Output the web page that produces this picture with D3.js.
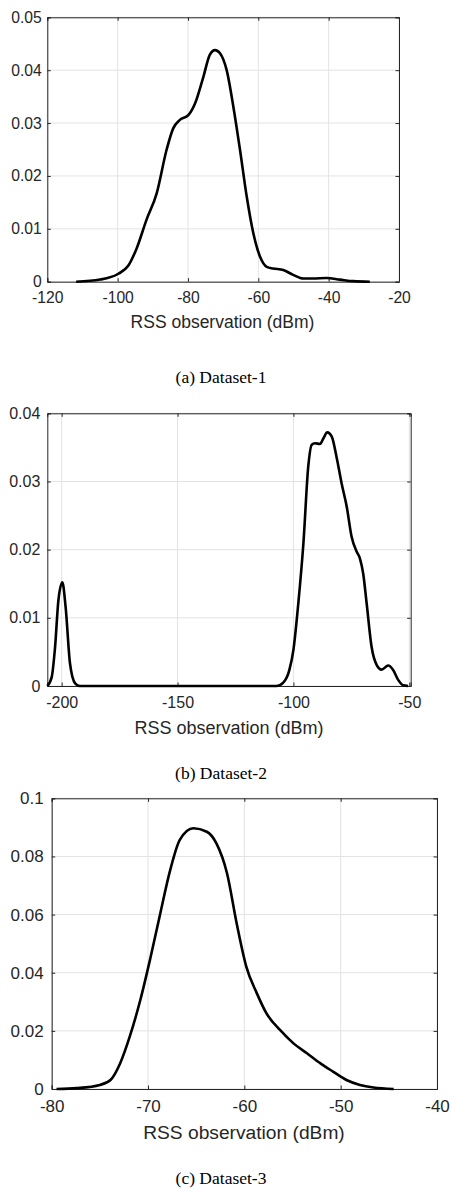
<!DOCTYPE html>
<html>
<head>
<meta charset="utf-8">
<script src="https://cdn.jsdelivr.net/npm/d3@7"></script>
<style>
  body { margin: 0; background: #fff; }
  svg { display: block; }
</style>
</head>
<body>
<div id="chart"></div>
<script>
/* RSS density curves for three datasets, MATLAB-ish look */

// dataset 1
const rss1 = [-111.8, -105, -99.8, -97, -94.6, -91.8, -88.9, -86.1, -84.2, -82.3, -79.9, -78, -75.6, -73.8, -72.3, -70.9, -69, -67.1, -65.2, -63.3, -61.4, -59.5, -57.6, -55.8, -52.9, -50.1, -47.2, -44.4, -40.6, -36.8, -33, -28.3];
const dens1 = [0, 0.0004, 0.0015, 0.003, 0.0063, 0.0117, 0.0167, 0.0249, 0.029, 0.0306, 0.0315, 0.0337, 0.0388, 0.0429, 0.0438, 0.0432, 0.040, 0.0331, 0.0249, 0.0161, 0.0091, 0.0047, 0.0028, 0.0025, 0.0022, 0.0013, 0.0006, 0.0006, 0.0007, 0.0004, 0.0001, 0];

// dataset 2
const rss2 = [-206.2, -204.3, -202.9, -201.4, -199.7, -198.3, -196.4, -194.2, -192.1, -107.3, -104.4, -101.8, -100, -97.9, -95.7, -93.6, -92.1, -90.7, -88.5, -87.1, -85.4, -83.5, -81.4, -79.2, -77, -74.9, -72.7, -71.3, -69.9, -68.4, -66.3, -64.1, -62, -59.1, -56.9, -54.8, -52.6, -50.5];
const dens2 = [0, 0.0013, 0.0055, 0.0126, 0.0152, 0.0116, 0.0033, 0.0004, 0, 0, 0.0005, 0.0023, 0.0053, 0.0121, 0.0209, 0.0322, 0.0354, 0.0356, 0.0355, 0.0363, 0.0372, 0.0366, 0.0336, 0.0297, 0.0263, 0.0219, 0.0197, 0.0187, 0.0165, 0.0121, 0.0058, 0.0031, 0.0024, 0.003, 0.0023, 0.0009, 0.0001, 0];

// dataset 3
const rss3 = [-79.5, -77.4, -75, -73.9, -72.9, -71.9, -70.8, -69.8, -68.8, -67.7, -66.7, -65.3, -63.9, -62.9, -61.8, -60.8, -59.8, -58.7, -57.7, -56.3, -54.9, -53.5, -52.1, -50.8, -49.4, -48, -46.6, -44.5];
const dens3 = [0, 0.0003, 0.0014, 0.0031, 0.0088, 0.018, 0.0306, 0.0444, 0.0593, 0.0753, 0.0857, 0.0897, 0.0885, 0.0845, 0.0742, 0.057, 0.0421, 0.0329, 0.026, 0.0203, 0.0157, 0.0123, 0.0088, 0.006, 0.0031, 0.0014, 0.0005, 0];

// tick labels
const xTicks1 = [-120, -100, -80, -60, -40, -20];
const yTicks1 = [0, 0.01, 0.02, 0.03, 0.04, 0.05];
const xTicks2 = [-200, -150, -100, -50];
const yTicks2 = [0, 0.01, 0.02, 0.03, 0.04];
const xTicks3 = [-80, -70, -60, -50, -40];
const yTicks3 = [0, 0.02, 0.04, 0.06, 0.08, 0.1];

const xTitle = "RSS observation (dBm)";
const captions = ["(a) Dataset-1", "(b) Dataset-2", "(c) Dataset-3"];

const width = 452, height = 1189;
const ink = "#262626", grid = "#e3e3e3";

let svg = d3.select("#chart")
    .append("svg")
    .attr("width", width)
    .attr("height", height);

// one panel: box, grid, ticks, curve, labels
function panel(p) {
    let x = d3.scaleLinear().domain(p.xDomain).range([p.left, p.right]);
    let y = d3.scaleLinear().domain(p.yDomain).range([p.bottom, p.top]);
    let g = svg.append("g");

    // grid lines
    g.append("g").selectAll("line").data(p.xTicks).join("line")
        .attr("x1", d => x(d)).attr("x2", d => x(d))
        .attr("y1", p.top).attr("y2", p.bottom)
        .attr("stroke", grid);
    g.append("g").selectAll("line").data(p.yTicks).join("line")
        .attr("x1", p.left).attr("x2", p.right)
        .attr("y1", d => y(d)).attr("y2", d => y(d))
        .attr("stroke", grid);

    // axes with inward ticks, mirrored on the other sides
    const tl = 3.5;
    const tickFont = `${p.tickSize}px 'Liberation Sans', Arial, sans-serif`;
    let bx = g.append("g")
        .attr("transform", `translate(0,${p.bottom})`)
        .call(d3.axisBottom(x).tickValues(p.xTicks).tickSize(-tl).tickPadding(p.xPad).tickFormat(d => String(d)));
    let tx = g.append("g")
        .attr("transform", `translate(0,${p.top})`)
        .call(d3.axisTop(x).tickValues(p.xTicks).tickSize(-tl).tickFormat(""));
    let ly = g.append("g")
        .attr("transform", `translate(${p.left},0)`)
        .call(d3.axisLeft(y).tickValues(p.yTicks).tickSize(-tl).tickPadding(p.yPad).tickFormat(d => d === 0 ? "0" : d3.format(p.yFormat)(d)));
    let ry = g.append("g")
        .attr("transform", `translate(${p.right},0)`)
        .call(d3.axisRight(y).tickValues(p.yTicks).tickSize(-tl).tickFormat(""));
    for (let a of [bx, tx, ly, ry]) {
        a.select(".domain").attr("stroke", ink);
        a.selectAll(".tick line").attr("stroke", ink);
        a.selectAll(".tick text").attr("fill", ink).style("font", tickFont);
    }

    // density curve
    let pts = p.xs.map((v, i) => [v, p.ys[i]]);
    g.append("path")
        .datum(pts)
        .attr("fill", "none")
        .attr("stroke", "#000")
        .attr("stroke-width", 2.6)
        .attr("stroke-linejoin", "round")
        .attr("d", d3.line().x(d => x(d[0])).y(d => y(d[1])).curve(d3.curveMonotoneX));

    // axis title and caption
    g.append("text")
        .attr("x", p.titleX)
        .attr("y", p.titleY)
        .attr("text-anchor", "middle")
        .attr("fill", ink)
        .style("font", `${p.titleSize}px 'Liberation Sans', Arial, sans-serif`)
        .text(xTitle);
    g.append("text")
        .attr("x", 221)
        .attr("y", p.capY)
        .attr("text-anchor", "middle")
        .attr("fill", "#000")
        .style("font", "17.5px 'Liberation Serif', 'Times New Roman', serif")
        .text(p.caption);
}

panel({xs: rss1, ys: dens1, xTicks: xTicks1, yTicks: yTicks1, xDomain: [-120, -20], yDomain: [0, 0.05],
    left: 47.3, right: 399, top: 17.3, bottom: 281.7, yFormat: ".2f", tickSize: 15.7, titleSize: 17.5,
    xPad: 10.5, yPad: 5.5, titleX: 222.5, titleY: 328, capY: 383, caption: captions[0]});

panel({xs: rss2, ys: dens2, xTicks: xTicks2, yTicks: yTicks2, xDomain: [-206.2, -49.4], yDomain: [0, 0.04],
    left: 47.3, right: 410.7, top: 413.3, bottom: 686, yFormat: ".2f", tickSize: 16, titleSize: 18,
    xPad: 10.8, yPad: 7, titleX: 229, titleY: 733.5, capY: 778.5, caption: captions[1]});

panel({xs: rss3, ys: dens3, xTicks: xTicks3, yTicks: yTicks3, xDomain: [-80, -40], yDomain: [0, 0.1],
    left: 51.7, right: 437, top: 798.3, bottom: 1089, yFormat: ".2~f", tickSize: 17, titleSize: 19.2,
    xPad: 11.3, yPad: 8, titleX: 244, titleY: 1138.5, capY: 1183.5, caption: captions[2]});
</script>
</body>
</html>
